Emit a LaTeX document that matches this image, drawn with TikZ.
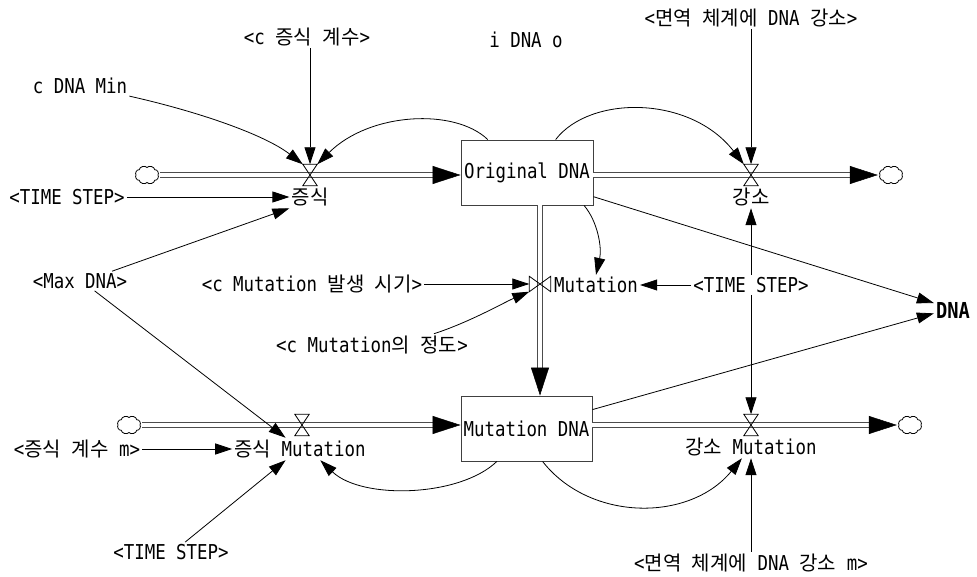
\documentclass[tikz,border=0pt]{standalone}
\usepackage{fontspec}
\setmainfont[FakeStretch=0.85]{DejaVu Sans Mono}
\newfontfamily\krfont{Noto Sans CJK KR}
\usetikzlibrary{arrows.meta,calc}
\newcommand{\K}[1]{{\fontsize{20}{20}\selectfont\krfont #1}}
\newcommand{\hourglassv}[1]{\draw[valveline] (#1.north west) -- (#1.north east) -- (#1.south west) -- (#1.south east) -- cycle;}
\newcommand{\sidevalve}[1]{\draw[valveline] (#1.north west) -- (#1.south west) -- (#1.north east) -- (#1.south east) -- cycle;}
\newcommand{\puffcloud}[1]{\draw[valveline, fill=white] ($(#1)+(11,0)$) foreach \a in {45,90,...,360} { to[bend left=65] ($(#1)+({11*cos(\a)},{7.5*sin(\a)})$) } -- cycle;}
\begin{document}
\begin{tikzpicture}[x=1pt,y=-1pt,
  font=\fontsize{20.5}{22}\selectfont,
  lbl/.style={inner sep=2pt, text=black},
  stock/.style={draw=black!75, line width=0.9pt, minimum width=132pt, minimum height=65pt, inner sep=0pt},
  cloudn/.style={minimum width=26pt, minimum height=19pt, inner sep=0pt},
  valvebox/.style={minimum width=14pt, minimum height=21pt, inner sep=0pt},
  mvbox/.style={minimum width=21pt, minimum height=15pt, inner sep=0pt},
  valveline/.style={draw=black, line width=0.8pt, line join=miter},
  pipe/.style={draw=black!70, line width=1.1pt, double=white, double distance=3.5pt, shorten >=14pt},
  ftip/.style={draw=black, line width=0.5pt, -{Triangle[length=28pt,width=18pt]}},
  info/.style={draw=black, line width=0.8pt, -{Triangle[length=17pt,width=11pt]}}
]
\useasboundingbox (0,0) rectangle (977,577);

% stocks
\node[stock] (od) at (527,172.5) {Original DNA};
\node[stock, minimum width=131pt] (md) at (526.5,428.5) {Mutation DNA};

% clouds
\node[cloudn] (cl1) at (147,175) {};
\node[cloudn] (cl2) at (891,175) {};
\node[cloudn] (cl3) at (129,425) {};
\node[cloudn] (cl4) at (910,425) {};

% valves
\node[valvebox] (v1) at (310,175) {};
\node[valvebox] (v2) at (751,175) {};
\node[valvebox] (v3) at (302,425) {};
\node[valvebox] (v4) at (751,425) {};
\node[mvbox] (mv) at (540,284) {};

% labels
\node[lbl] (n1) at (310,197) {\K{증식}};
\node[lbl] (n2) at (751,197) {\K{강소}};
\node[lbl] (n3) at (300,449) {\K{증식} Mutation};
\node[lbl] (n4) at (751,447) {\K{강소} Mutation};
\node[lbl] (mlab) at (596,285) {Mutation};

\node[lbl] (ckg) at (307,37) {<c \K{증식} \K{계수}>};
\node[lbl] (idna) at (526,40) {i DNA o};
\node[lbl] (imm) at (751,18) {<\K{면역} \K{체계에} DNA \K{강소}>};
\node[lbl] (cmin) at (80,86) {c DNA Min};
\node[lbl] (ts1) at (67,197) {<TIME STEP>};
\node[lbl] (maxd) at (80,281) {<Max DNA>};
\node[lbl] (cmt) at (312,284) {<c Mutation \K{발생} \K{시기}>};
\node[lbl] (cmj) at (372,345) {<c Mutation\K{의} \K{정도}>};
\node[lbl] (ts2) at (751,285) {<TIME STEP>};
\node[lbl, font=\fontsize{22}{22}\selectfont\bfseries] (dna) at (953,310) {DNA};
\node[lbl] (gm) at (77,449) {<\K{증식} \K{계수} m>};
\node[lbl] (ts3) at (171,552) {<TIME STEP>};
\node[lbl] (immm) at (751,563) {<\K{면역} \K{체계에} DNA \K{강소} m>};

% pipes
\draw[pipe] (cl1.east) -- (cl1.east -| od.west);
\draw[ftip] ($(cl1.east -| od.west)+(-28,0)$) -- (cl1.east -| od.west);
\draw[pipe] (od.east |- v2) -- (cl2.west);
\draw[ftip] ($(cl2.west)+(-28,0)$) -- (cl2.west);
\draw[pipe] (od.south -| mv) -- (md.north -| mv);
\draw[ftip] ($(md.north -| mv)+(0,-28)$) -- (md.north -| mv);
\draw[pipe] (cl3.east) -- (cl3.east -| md.west);
\draw[ftip] ($(cl3.east -| md.west)+(-28,0)$) -- (cl3.east -| md.west);
\draw[pipe] (md.east |- v4) -- (cl4.west);
\draw[ftip] ($(cl4.west)+(-28,0)$) -- (cl4.west);

% clouds drawn
\puffcloud{cl1}
\puffcloud{cl2}
\puffcloud{cl3}
\puffcloud{cl4}

% valve symbols
\hourglassv{v1}
\hourglassv{v2}
\hourglassv{v3}
\hourglassv{v4}
\sidevalve{mv}

% info links
\draw[info] (cmin.south east) .. controls (200,112) and (265,135) .. (v1.north west);
\draw[info] (ckg.south -| v1) -- (v1.north);
\draw[info] (od.140) .. controls (455,108) and (370,112) .. (v1.north east);
\draw[info] (od.49) .. controls (590,95) and (690,95) .. (v2.north west);
\draw[info] (imm.south -| v2) -- (v2.north);
\draw[info] (ts1.east) -- (n1.west);
\draw[info] (maxd.17) -- (n1.south west);
\draw[info] (maxd.-34) -- (n3.142);
\draw[info] (od.-30) .. controls (598,222) and (602,248) .. (mlab.north);
\draw[info] (cmt.east) -- (mv.west);
\draw[info] ($(cmj.north east)+(-36,0)$) .. controls (470,322) and (505,302) .. (mv.south west);
\draw[info] (ts2.west) -- (mlab.east);
\draw[info] (ts2.north) -- (ts2.north |- n2.south);
\draw[info] (ts2.south) -- (v4.north);
\draw[info] (od.-20) -- (dna.160);
\draw[info] (md.16) -- (dna.190);
\draw[info] (md.228) .. controls (460,497) and (362,500) .. (n3.-29);
\draw[info] (md.-64) .. controls (590,522) and (690,522) .. (n4.-129);
\draw[info] (ts3.35) -- (n3.218);
\draw[info] (gm.east) -- (n3.west);
\draw[info] (immm.north) -- (n4.south);
\end{tikzpicture}
\end{document}
